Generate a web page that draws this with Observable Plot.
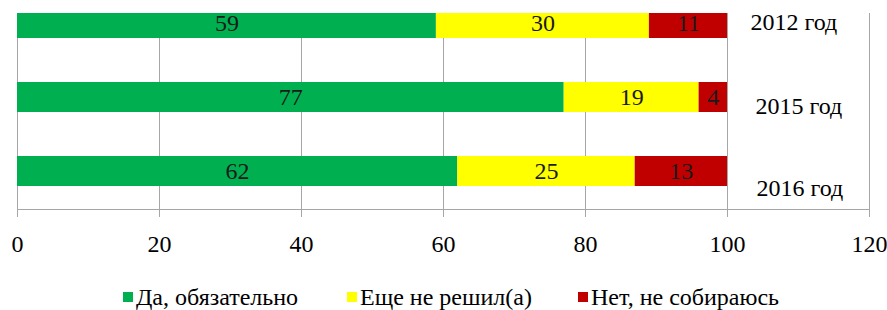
<!DOCTYPE html>
<html>
<head>
<meta charset="utf-8">
<script src="https://cdn.jsdelivr.net/npm/d3@7"></script>
<script src="https://cdn.jsdelivr.net/npm/@observablehq/plot@0.6"></script>
<style>
  body { margin: 0; background: #fff; font-family: "Liberation Serif", "Times New Roman", "DejaVu Serif", serif; }
  #chart svg { display: block; }
  #chart svg text { font-family: "Liberation Serif", "Times New Roman", "DejaVu Serif", serif !important; }
  #legend { position: relative; width: 887px; height: 48px; font-family: "Liberation Serif", "Times New Roman", "DejaVu Serif", serif; font-size: 24px; color: #000; }
  #legend .item { position: absolute; top: 23px; line-height: 24px; white-space: nowrap; display: flex; align-items: center; font-family: "Liberation Serif", "Times New Roman", "DejaVu Serif", serif; }
  #legend .sw { width: 10px; height: 10px; margin-right: 3px; display: inline-block; }
</style>
</head>
<body>
<div id="chart"></div>
<div id="legend"></div>
<script>
const years = ["2012 год", "2015 год", "2016 год"];
const answers = ["Да, обязательно", "Еще не решил(а)", "Нет, не собираюсь"];
const yesValues = [59, 77, 62];
const undecidedValues = [30, 19, 25];
const noValues = [11, 4, 13];
const xTicks = [0, 20, 40, 60, 80, 100, 120];
const colors = ["#00B050", "#FFFF00", "#C00000"];

const series = [yesValues, undecidedValues, noValues];
const data = [];
years.forEach((year, i) => {
  answers.forEach((answer, j) => {
    data.push({year, answer, value: series[j][i]});
  });
});

const font = '"Liberation Serif", "Times New Roman", "DejaVu Serif", serif';
const gridColor = "#A6A6A6";
const yearOffsets = [
  {dx: 23, dy: -1},
  {dx: 28, dy: 9},
  {dx: 29, dy: 17}
];

const chart = Plot.plot({
  width: 887,
  height: 262,
  marginTop: 13,
  marginBottom: 53,
  marginLeft: 17,
  marginRight: 18,
  style: {fontFamily: font, background: "white", overflow: "visible"},
  x: {domain: [0, 120], label: null},
  y: {domain: years, range: [-15.25, 209], paddingInner: 0.596, paddingOuter: 0.31, axis: null, label: null},
  color: {domain: answers, range: colors},
  marks: [
    Plot.gridX(xTicks, {stroke: gridColor, strokeOpacity: 1, strokeWidth: 1}),
    Plot.barX(data, {x: "value", y: "year", fill: "answer", order: null, clip: true}),
    Plot.text(data, Plot.stackX({x: "value", y: "year", z: "answer", text: d => String(d.value), order: null, fontSize: 24, fill: "#1a1a1a", fontFamily: font})),
    ...years.map((yr, i) => Plot.text([yr], {x: () => 100, y: d => d, text: d => d, textAnchor: "start", dx: yearOffsets[i].dx, dy: yearOffsets[i].dy, fontSize: 24, fill: "#000", fontFamily: font})),
    Plot.frame({anchor: "bottom", stroke: gridColor}),
    Plot.axisX({ticks: xTicks, tickSize: 8, tickPadding: 17, stroke: gridColor, fontSize: 24, fill: "#000", fontFamily: font, tickFormat: d => String(d), label: null})
  ]
});
document.getElementById("chart").appendChild(chart);

const legendLefts = [123, 347, 578];
const legend = document.getElementById("legend");
answers.forEach((a, i) => {
  const item = document.createElement("div");
  item.className = "item";
  item.style.left = legendLefts[i] + "px";
  item.style.fontFamily = font;
  const sw = document.createElement("span");
  sw.className = "sw";
  sw.style.background = colors[i];
  const t = document.createElement("span");
  t.textContent = a;
  t.style.fontFamily = font;
  item.appendChild(sw);
  item.appendChild(t);
  legend.appendChild(item);
});
</script>
</body>
</html>
